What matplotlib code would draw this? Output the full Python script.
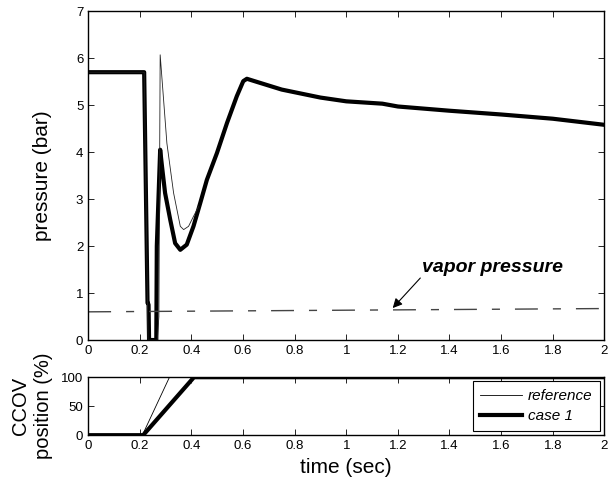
import matplotlib.pyplot as plt

plt.rcParams['font.family'] = ['Liberation Sans', 'DejaVu Sans']
plt.rcParams['lines.scale_dashes'] = False

# pressure traces (bar)
t_case = [0, 0.217, 0.230, 0.231, 0.234, 0.236, 0.264, 0.266, 0.279, 0.286, 0.298,
          0.318, 0.337, 0.357, 0.382, 0.408, 0.434, 0.46, 0.499, 0.538, 0.576,
          0.601, 0.615, 0.65, 0.75, 0.9, 1.0, 1.14, 1.2, 1.4, 1.6, 1.8, 2.0]
p_case = [5.7, 5.7, 0.79, 0.79, 0.75, 0.0, 0.0, 2.0, 4.05, 3.70, 3.13,
          2.56, 2.06, 1.92, 2.03, 2.42, 2.91, 3.41, 3.98, 4.62, 5.19,
          5.51, 5.56, 5.5, 5.33, 5.16, 5.08, 5.03, 4.97, 4.88, 4.8, 4.71, 4.58]

t_ref = [0, 0.217, 0.232, 0.268, 0.274, 0.279, 0.305, 0.331, 0.357, 0.37,
         0.389, 0.408, 0.428]
p_ref = [5.7, 5.7, 0.0, 0.0, 0.5, 6.07, 4.19, 3.13, 2.42, 2.35,
         2.42, 2.63, 2.84]

t_vap = [0, 2.0]
p_vap = [0.6, 0.67]

# CCOV position (%)
t_pos_case = [0, 0.213, 0.41, 2.0]
pos_case = [0, 0, 100, 100]
t_pos_ref = [0, 0.21, 0.315, 2.0]
pos_ref = [0, 0, 100, 100]

xticks = [0, 0.2, 0.4, 0.6, 0.8, 1, 1.2, 1.4, 1.6, 1.8, 2]
xlabels = ['0', '0.2', '0.4', '0.6', '0.8', '1', '1.2', '1.4', '1.6', '1.8', '2']

fig = plt.figure(figsize=(6.08, 4.83), dpi=100)
ax1 = fig.add_axes([0.145, 0.296, 0.849, 0.681])
ax2 = fig.add_axes([0.145, 0.099, 0.849, 0.12])

for ax in (ax1, ax2):
    ax.tick_params(direction='in', top=True, right=True, labelsize=9.5,
                   length=4, width=0.6, pad=3.5)
    for s in ax.spines.values():
        s.set_linewidth(1.0)
    ax.set_xlim(0, 2)
    ax.set_xticks(xticks)
    ax.set_xticklabels(xlabels)

# top: pressure
ax1.plot(t_case, p_case, color='black', lw=3.0, solid_joinstyle='round')
ax1.plot(t_ref, p_ref, color='#222222', lw=0.6)
vap, = ax1.plot(t_vap, p_vap, color='#444444', lw=1.0)
vap.set_dashes([16.5, 10.8, 5.8, 10.8])
ax1.set_ylim(0, 7)
ax1.set_yticks(range(8))
ax1.set_ylabel('pressure (bar)', fontsize=15, labelpad=17)

ax1.text(1.566, 1.535, 'vapor pressure', fontsize=14, fontweight='bold',
         fontstyle='italic', ha='center', va='center')
ax1.annotate('', xy=(1.18, 0.68), xytext=(1.287, 1.32),
             arrowprops=dict(arrowstyle='-|>', color='black', lw=0.8,
                             mutation_scale=14, shrinkA=0, shrinkB=0))

# bottom: valve position
h_case, = ax2.plot(t_pos_case, pos_case, color='black', lw=3.0)
h_ref, = ax2.plot(t_pos_ref, pos_ref, color='black', lw=0.6)
ax2.set_ylim(0, 100)
ax2.set_yticks([0, 50, 100])
ax2.set_xlabel('time (sec)', fontsize=15, labelpad=4)
ax2.set_ylabel('CCOV\nposition (%)', fontsize=14.5, labelpad=6, linespacing=1.25)

leg = ax2.legend([h_ref, h_case], ['reference', 'case 1'], loc='lower right',
                 prop={'style': 'italic', 'size': 11}, fancybox=False,
                 edgecolor='black', framealpha=1, borderaxespad=0.3,
                 handlelength=2.75, handletextpad=0.33, labelspacing=0.4,
                 borderpad=0.5)
leg.get_frame().set_linewidth(0.8)

fig.savefig('out.png', dpi=100)
